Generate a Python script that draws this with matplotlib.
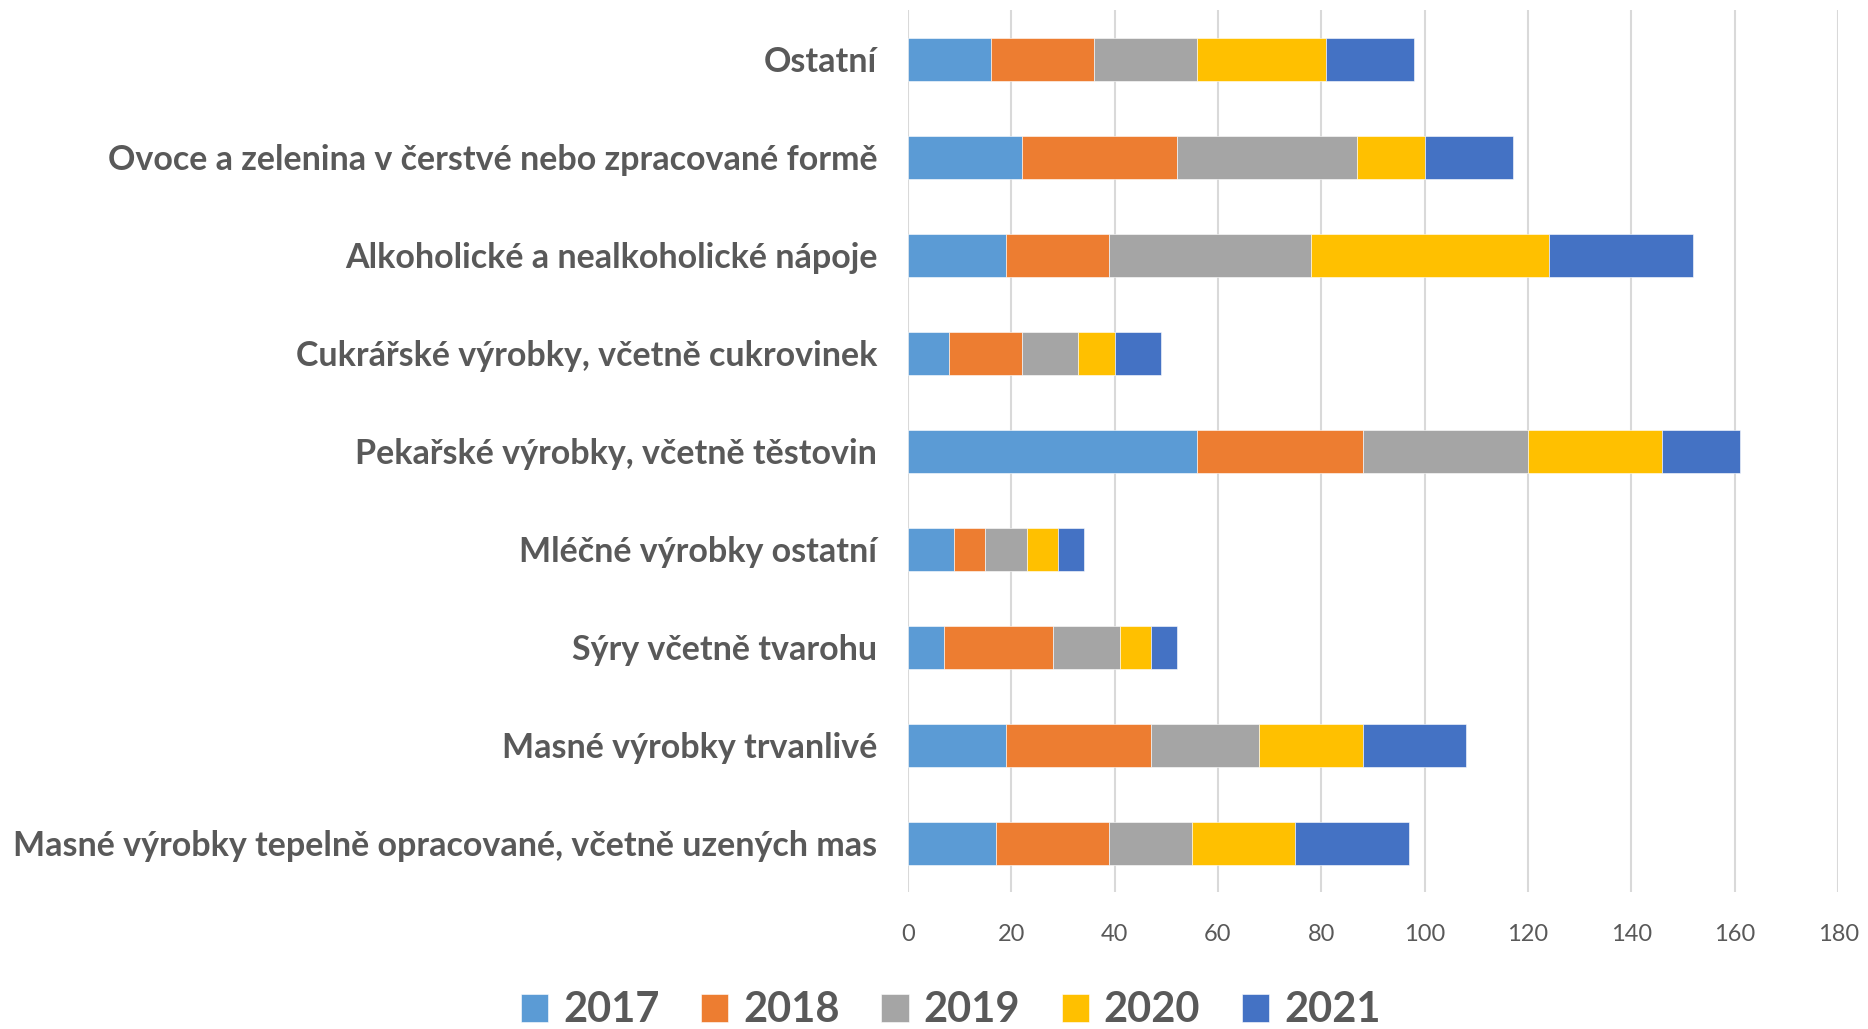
import numpy as np
import matplotlib.pyplot as plt

categories = [
    "Masné výrobky tepelně opracované, včetně uzených mas",
    "Masné výrobky trvanlivé",
    "Sýry včetně tvarohu",
    "Mléčné výrobky ostatní",
    "Pekařské výrobky, včetně těstovin",
    "Cukrářské výrobky, včetně cukrovinek",
    "Alkoholické a nealkoholické nápoje",
    "Ovoce a zelenina v čerstvé nebo zpracované formě",
    "Ostatní",
]
years = ["2017", "2018", "2019", "2020", "2021"]
v2017 = [17, 19, 7, 9, 56, 8, 19, 22, 16]
v2018 = [22, 28, 21, 6, 32, 14, 20, 30, 20]
v2019 = [16, 21, 13, 8, 32, 11, 39, 35, 20]
v2020 = [20, 20, 6, 6, 26, 7, 46, 13, 25]
v2021 = [22, 20, 5, 5, 15, 9, 28, 17, 17]
colors = ["#5b9bd5", "#ed7d31", "#a5a5a5", "#ffc000", "#4472c4"]


def main():
    plt.rcParams['font.family'] = ['Lato', 'DejaVu Sans']
    fig = plt.figure(figsize=(18.68, 10.29), dpi=100)
    ax = fig.add_axes([0.486, 0.133, 0.498, 0.857])

    y = np.arange(len(categories))
    left = np.zeros(len(categories))
    for year, vals, col in zip(years, [v2017, v2018, v2019, v2020, v2021], colors):
        vals = np.array(vals, dtype=float)
        ax.barh(y, vals, left=left, height=0.44, color=col, label=year,
                edgecolor='white', linewidth=0.4, zorder=3)
        left += vals

    ax.set_xlim(0, 180)
    ax.set_ylim(-0.5, len(categories) - 0.5)
    ax.set_xticks(np.arange(0, 181, 20))
    ax.set_yticks(y)
    ax.set_yticklabels(categories, fontsize=24.5, fontweight='bold', color='#595959')
    ax.tick_params(axis='y', length=0, pad=22)
    ax.tick_params(axis='x', length=0, pad=23, labelsize=17, labelcolor='#595959')
    ax.grid(axis='x', color='#d9d9d9', linewidth=1.5, zorder=0)
    for s in ax.spines.values():
        s.set_visible(False)

    handles, labels = ax.get_legend_handles_labels()
    leg = fig.legend(handles, labels, loc='center', bbox_to_anchor=(0.509, 0.018),
                     ncol=5, frameon=False, handlelength=0.65, handleheight=0.65,
                     handletextpad=0.36, columnspacing=1.0,
                     prop={'size': 30, 'weight': 'bold'})
    for t in leg.get_texts():
        t.set_color('#595959')

    fig.savefig('out.png', dpi=100)


if __name__ == "__main__":
    main()
